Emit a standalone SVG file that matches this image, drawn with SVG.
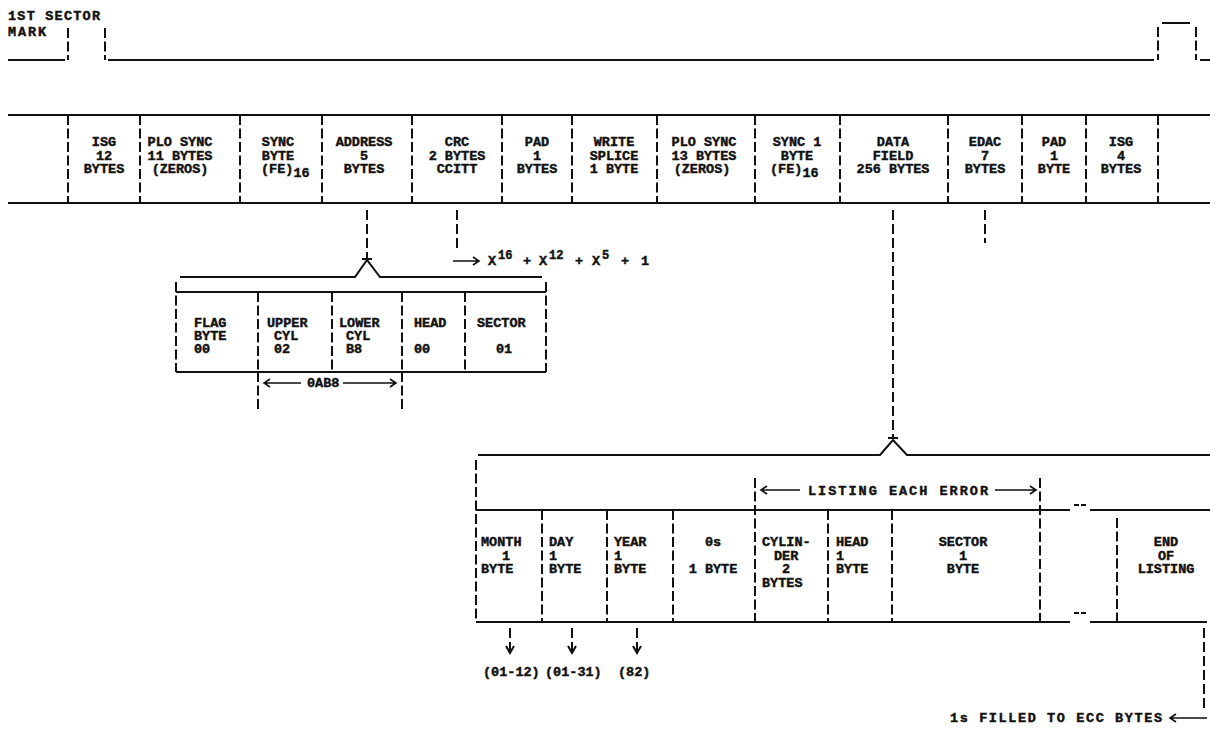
<svg xmlns="http://www.w3.org/2000/svg" width="1210" height="732" viewBox="0 0 1210 732">
<style>
text{font-family:"Liberation Mono","DejaVu Sans Mono",monospace;font-weight:bold;font-size:13.5px;fill:#111;stroke:#111;stroke-width:0.45}
.c{text-anchor:middle}
.e{text-anchor:end}
.sup{font-size:12px}
.h{stroke:#111;stroke-width:2;fill:none}
.a{stroke:#111;stroke-width:1.6;fill:none}
.v{stroke:#111;stroke-width:2;fill:none;stroke-dasharray:10 3.5}
.d{stroke:#111;stroke-width:2;fill:none;stroke-dasharray:10 4}
.g{stroke:#111;stroke-width:2;fill:none;stroke-dasharray:5 2}
</style>
<rect width="1210" height="732" fill="#fff"/>

<g id="waveform">
<text x="8" y="20" textLength="92">1ST SECTOR</text>
<text x="8" y="36" textLength="38">MARK</text>
<path class="h" d="M8 60 H65 M108 60 H1154 M1200 60 H1210 M1162 23 H1190"/>
<path class="v" d="M68 28 V60 M105 28 V60 M1158 27 V60 M1196 27 V60"/>
</g>

<g id="sector-format">
<path class="h" d="M8 115 H1210 M8 203 H1210"/>
<path class="v" d="M68 115 V203 M140 115 V203 M240 115 V203 M322 115 V203 M412 115 V203 M502 115 V203 M572 115 V203 M657 115 V203 M755 115 V203 M840 115 V203 M948 115 V203 M1022 115 V203 M1086 115 V203 M1158 115 V203"/>
<g id="f-isg1"><text class="c" x="104" y="146">ISG</text><text class="c" x="104" y="160">12</text><text class="c" x="104" y="173">BYTES</text></g>
<g id="f-plo1"><text class="c" x="180" y="146">PLO SYNC</text><text class="c" x="180" y="160">11 BYTES</text><text class="c" x="180" y="173">(ZEROS)</text></g>
<g id="f-sync"><text class="c" x="278" y="146">SYNC</text><text class="c" x="278" y="160">BYTE</text><text x="261" y="173">(FE)<tspan dy="4">16</tspan></text></g>
<g id="f-addr"><text class="c" x="364" y="146">ADDRESS</text><text class="c" x="364" y="160">5</text><text class="c" x="364" y="173">BYTES</text></g>
<g id="f-crc"><text class="c" x="457" y="146">CRC</text><text class="c" x="457" y="160">2 BYTES</text><text class="c" x="457" y="173">CCITT</text></g>
<g id="f-pad1"><text class="c" x="537" y="146">PAD</text><text class="c" x="537" y="160">1</text><text class="c" x="537" y="173">BYTES</text></g>
<g id="f-splice"><text class="c" x="614" y="146">WRITE</text><text class="c" x="614" y="160">SPLICE</text><text class="c" x="614" y="173">1 BYTE</text></g>
<g id="f-plo2"><text class="c" x="704" y="146">PLO SYNC</text><text class="c" x="704" y="160">13 BYTES</text><text class="c" x="702" y="173">(ZEROS)</text></g>
<g id="f-sync1"><text class="c" x="797" y="146">SYNC 1</text><text class="c" x="797" y="160">BYTE</text><text x="770" y="173">(FE)<tspan dy="4">16</tspan></text></g>
<g id="f-data"><text class="c" x="893" y="146">DATA</text><text class="c" x="893" y="160">FIELD</text><text class="c" x="893" y="173">256 BYTES</text></g>
<g id="f-edac"><text class="c" x="985" y="146">EDAC</text><text class="c" x="985" y="160">7</text><text class="c" x="985" y="173">BYTES</text></g>
<g id="f-pad2"><text class="c" x="1054" y="146">PAD</text><text class="c" x="1054" y="160">1</text><text class="c" x="1054" y="173">BYTE</text></g>
<g id="f-isg2"><text class="c" x="1121" y="146">ISG</text><text class="c" x="1121" y="160">4</text><text class="c" x="1121" y="173">BYTES</text></g>
</g>

<g id="crc-poly">
<path class="a" d="M453 261 H478 M473 257 L479 261 L473 265"/>
<text x="488" y="265">X</text><text class="sup" x="498" y="259">16</text>
<text x="523" y="265">+</text>
<text x="539" y="265">X</text><text class="sup" x="549" y="259">12</text>
<text x="575" y="265">+</text>
<text x="592" y="265">X</text><text class="sup" x="602" y="259">5</text>
<text x="621" y="265">+</text>
<text x="641" y="265">1</text>
</g>

<g id="address-box">
<path class="h" d="M180 277 H355 L367 260 L380 277 H542 M176 292 H546 M176 372 H546"/>
<path class="v" d="M176 282 V372 M546 282 V372 M258 292 V372 M332 292 V372 M402 292 V372 M465 292 V372"/>
<g id="a-flag"><text x="194" y="327">FLAG</text><text x="194" y="340">BYTE</text><text x="194" y="353">00</text></g>
<g id="a-upper"><text x="267" y="327">UPPER</text><text x="274" y="340">CYL</text><text x="274" y="353">02</text></g>
<g id="a-lower"><text x="339" y="327">LOWER</text><text x="346" y="340">CYL</text><text x="346" y="353">B8</text></g>
<g id="a-head"><text x="414" y="327">HEAD</text><text x="414" y="353">00</text></g>
<g id="a-sector"><text x="477" y="327">SECTOR</text><text x="496" y="353">01</text></g>
<path class="v" d="M258 372 V412 M402 372 V412"/>
<path class="a" d="M264 383 H301 M270 379 L264 383 L270 387 M343 383 H396 M390 379 L396 383 L390 387"/>
<text x="307" y="387">0AB8</text>
</g>

<g id="data-field-box">
<path class="h" d="M478 455 H880 L893 440 L907 455 H1210 M476 510 H1070 M1090 510 H1210 M476 622 H1070 M1090 622 H1207"/>
<path class="g" d="M1074 505 H1087 M1074 613 H1087"/>
<path class="v" d="M476 460 V622 M755 478 V622 M1040 478 V622 M542 510 V622 M607 510 V622 M673 510 V622 M828 510 V622 M892 510 V622 M1117 518 V622"/>
<path class="a" d="M761 490 H800 M767 486 L761 490 L767 494 M995 490 H1036 M1030 486 L1036 490 L1030 494"/>
<text x="808" y="495" textLength="180">LISTING EACH ERROR</text>
<g id="d-month"><text x="481" y="546">MONTH</text><text x="502" y="560">1</text><text x="481" y="573">BYTE</text></g>
<g id="d-day"><text x="549" y="546">DAY</text><text x="549" y="560">1</text><text x="549" y="573">BYTE</text></g>
<g id="d-year"><text x="614" y="546">YEAR</text><text x="614" y="560">1</text><text x="614" y="573">BYTE</text></g>
<g id="d-zero"><text class="c" x="713" y="546">0s</text><text class="c" x="713" y="573">1 BYTE</text></g>
<g id="d-cyl"><text x="762" y="546">CYLIN-</text><text x="774" y="560">DER</text><text x="782" y="573">2</text><text x="762" y="587">BYTES</text></g>
<g id="d-head"><text x="836" y="546">HEAD</text><text x="836" y="560">1</text><text x="836" y="573">BYTE</text></g>
<g id="d-sector"><text class="c" x="963" y="546">SECTOR</text><text class="c" x="963" y="560">1</text><text class="c" x="963" y="573">BYTE</text></g>
<g id="d-end"><text class="c" x="1166" y="546">END</text><text class="c" x="1166" y="560">OF</text><text class="c" x="1166" y="573">LISTING</text></g>
</g>

<g id="connectors">
<path class="d" d="M367 210 V258"/>
<path class="h" d="M362 259 H372"/>
<path class="d" d="M457 210 V250"/>
<path class="d" d="M893 210 V437"/>
<path class="h" d="M888 438 H898"/>
<path class="d" d="M985 210 V243"/>
<path class="d" d="M510 628 V652 M572 628 V652 M637 628 V652"/>
<path class="h" d="M506 646 L510 653 L514 646 M568 646 L572 653 L576 646 M633 646 L637 653 L641 646"/>
<path class="d" d="M1204 628 V712"/>
<path class="a" d="M1170 718 H1207 M1176 714 L1170 718 L1176 722"/>
</g>

<g id="labels">
<text x="483" y="676">(01-12)</text>
<text x="545" y="676">(01-31)</text>
<text x="618" y="676">(82)</text>
<text x="950" y="722" textLength="212">1s FILLED TO ECC BYTES</text>
</g>
</svg>
